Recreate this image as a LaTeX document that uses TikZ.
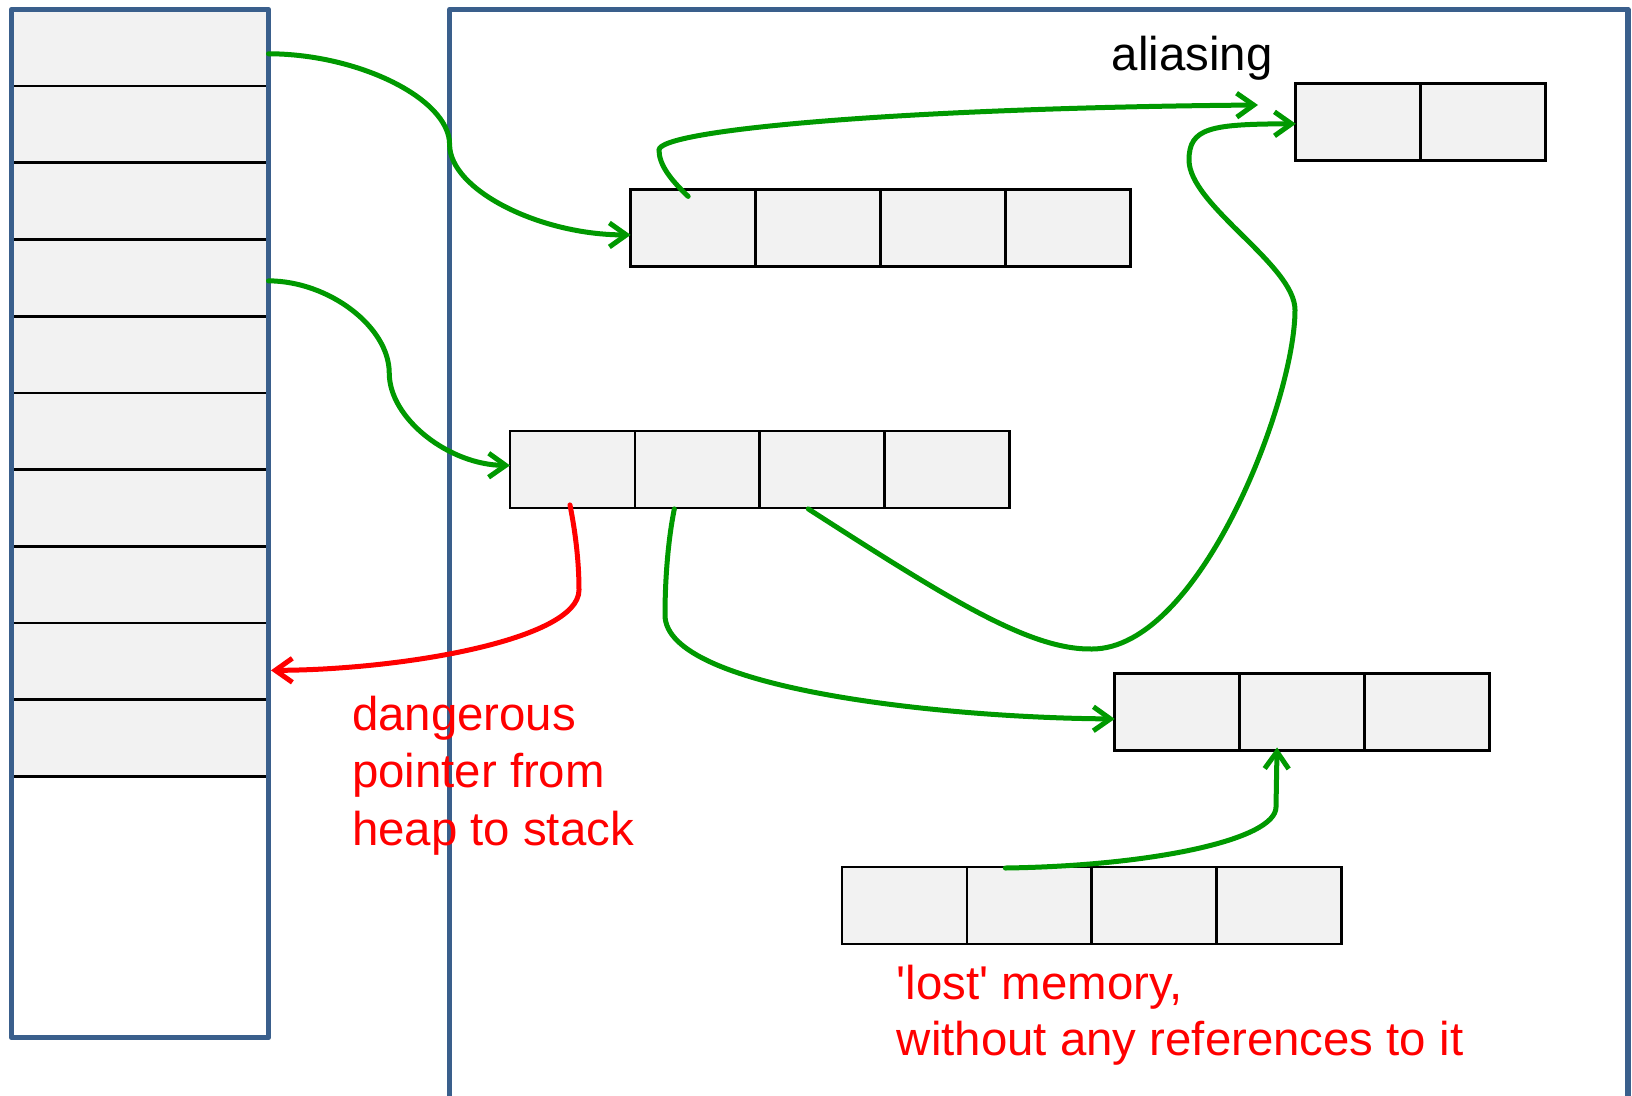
\documentclass[tikz,border=0pt]{standalone}
\usepackage{fontspec}
\setmainfont{Liberation Sans}
\usetikzlibrary{arrows.meta,calc}

\definecolor{frameblue}{RGB}{58,95,140}
\definecolor{ptrgreen}{RGB}{0,153,0}
\definecolor{warnred}{RGB}{255,0,0}
\definecolor{cellgray}{RGB}{242,242,242}

\begin{document}
\begin{tikzpicture}[x=1pt,y=-1pt,
  cell/.style={draw=black,fill=cellgray,line width=2.7pt,minimum width=124.9pt,
               minimum height=77pt,inner sep=0pt,outer sep=0pt},
  slot/.style={fill=cellgray,minimum width=258.1pt,minimum height=76.7pt,
               inner sep=0pt,outer sep=0pt},
  frame/.style={draw=frameblue,line width=5.3pt,line join=round},
  ptr/.style={draw=ptrgreen,line width=5pt,line cap=round,
              -{Straight Barb[length=17pt,width=24pt]}},
  badptr/.style={ptr,draw=warnred},
  note/.style={font=\fontsize{47.4}{57.6}\selectfont,inner sep=0pt,anchor=base west},
]
\useasboundingbox (0,0) rectangle (1632,1095);

% stack: ten slots with separators, then the frame
\foreach \i in {1,...,10}
  \node[slot] (s\i) at (139.45,{9.4+(\i-0.5)*76.7}) {};
\foreach \i in {1,...,10}
  \draw[line width=2.7pt] (s\i.south west) -- (s\i.south east);
\node[frame,minimum width=257pt,minimum height=1028.3pt,inner sep=0pt,outer sep=0pt]
  (stack) at (140,523.55) {};

% heap frame (open at the bottom)
\draw[frame] (449.6,1110) -- (449.6,9.4) -- (1628,9.4) -- (1628,1110);

% heap blocks
\foreach \i in {1,...,4}
  \node[cell] (a1c\i) at ({630.7+(\i-0.5)*124.9},227.9) {};
\foreach \i in {1,2}
  \node[cell] (a2c\i) at ({1295.8+(\i-0.5)*124.9},121.8) {};
\foreach \i in {1,...,4}
  \node[cell] (a3c\i) at ({510+(\i-0.5)*124.9},469.4) {};
\foreach \i in {1,...,3}
  \node[cell] (a4c\i) at ({1114.7+(\i-0.5)*124.9},711.9) {};
\foreach \i in {1,...,4}
  \node[cell] (a5c\i) at ({842+(\i-0.5)*124.9},905.5) {};

\coordinate (aliastip) at (1258,105);

% pointers from the stack into the heap
\draw[ptr] ($(s1.east)+(0,6)$) .. controls (359,54) and (449.6,99) .. (449.6,144.5)
  .. controls (449.6,190) and (540,235) .. ($(a1c1.west)+(0,7)$);
\draw[ptr] ($(s4.east)+(0,3)$) .. controls (329,281) and (389.25,327) .. (389.25,373)
  .. controls (389.25,419) and (449.6,465) .. ($(a3c1.west)+(0,-4)$);

% pointers inside the heap
\draw[ptr] ($(a1c1.north)+(-5,7)$) .. controls (671,180) and (659,165) .. (659,150)
  .. controls (659,130) and (900,108) .. (aliastip);
\draw[ptr] ($(a3c3.south)+(-14,1)$) .. controls (950,600) and (1030,650) .. (1092,649)
  .. controls (1200,649) and (1295,400) .. (1295,310)
  .. controls (1295,265) and (1189,205) .. (1189,160)
  .. controls (1189,128) and (1210,124) .. ($(a2c1.west)+(0,2)$);
\draw[ptr] ($(a3c2.south)+(-23,1)$) .. controls (668,540) and (665,580) .. (665,615)
  .. controls (665,690) and (950,718) .. ($(a4c1.west)+(0,7)$);
\draw[ptr] ($(a5c2.north)+(-24,1)$) .. controls (1150,866) and (1276,840) .. (1276,807)
  -- ($(a4c2.south)+(-25,-3)$);

% pointer from the heap back into the stack
\draw[badptr] ($(a3c1.south)+(-2.5,-3)$) .. controls (575,530) and (579,560) .. (579,590)
  .. controls (579,640) and (400,670) .. ($(s9.east)+(2.5,9)$);

% labels
\node[note] (aliaslbl) at (1111.6,70.8) {aliasing};
\node[note,text=warnred] (dang1) at (351.8,730) {dangerous};
\node[note,text=warnred] (dang2) at (351.8,787.6) {pointer from};
\node[note,text=warnred] (dang3) at (351.8,845.2) {heap to stack};
\node[note,text=warnred] (lost1) at (896.6,999.4) {\textquotesingle lost\textquotesingle{} memory,};
\node[note,text=warnred] (lost2) at (896.6,1055) {without any references to it};
\end{tikzpicture}
\end{document}
